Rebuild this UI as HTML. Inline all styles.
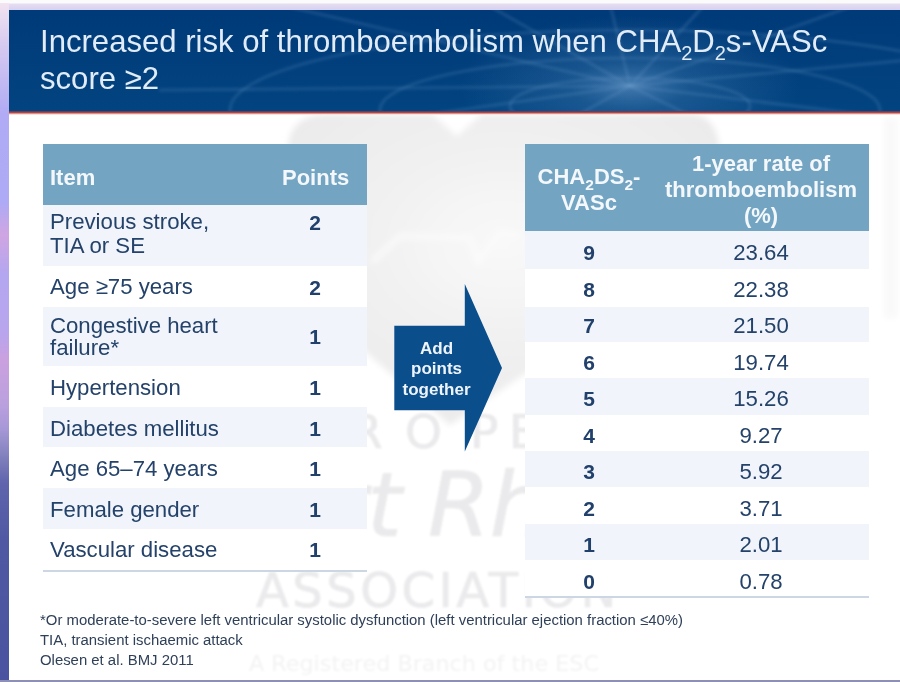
<!DOCTYPE html>
<html lang="en">
<head>
<meta charset="utf-8">
<title>Increased risk of thromboembolism when CHA2DS2-VASc score ≥2</title>
<style>
*{box-sizing:border-box;margin:0;padding:0}
html,body{width:900px;height:682px;overflow:hidden;background:#fff}
body{position:relative;font-family:"Liberation Sans",Arial,sans-serif;color:#1d3557}
.abs{position:absolute}
#wrap{position:absolute;left:-10px;top:-10px;width:920px;height:702px;padding:0;filter:blur(0.7px);background:#fff}
#wrap>*{transform:translate(10px,10px)}
#topstrip{left:-10px;top:0;width:920px;height:10px;background:linear-gradient(to bottom,#fbfbfb 0,#fbfbfb 3px,#e6ddf0 4px,#d9d3f1 9px)}
#leftstrip{left:-10px;top:3px;width:19px;height:690px;background:linear-gradient(to bottom,#f2e4f0 0,#d8cbf0 40px,#b0abf4 110px,#aeaaf5 200px,#d0a5e2 232px,#b4a6f0 270px,#b8a5ee 330px,#cba0df 357px,#bba0de 400px,#a898d8 425px,#8684c0 450px,#5f64ac 480px,#4f59a3 540px,#4a539f 679px,#4a539f 690px)}
#botstrip{left:-10px;top:680px;width:920px;height:12px;background:#8e8fb4}
#header{left:9px;top:10px;width:901px;height:101px;background:linear-gradient(to bottom,#003a78 0,#013f7c 50%,#024480 100%);overflow:hidden}
#redline{left:9px;top:111px;width:901px;height:4px;background:linear-gradient(to bottom,#4a3a66 0,#a8403f 35%,#d98f88 62%,#f6dcd8 85%,#fff 100%)}
#title{left:40px;top:23.2px;font-size:31.1px;line-height:37px;color:#e1ecf8;white-space:nowrap;letter-spacing:0}
#title sub{font-size:20px;vertical-align:baseline;position:relative;top:8px;line-height:0}
.wm{filter:blur(6px)}
.thead{background:#73a5c3;color:#f4f8fc;font-weight:bold;font-size:22px}
.row{left:43px;width:324px}
.rrow{left:525px;width:344px}
.lt{background:#f1f5fb}
.item{left:50px;font-size:22.2px;line-height:24.5px;white-space:nowrap;color:#24426a}
.pt{left:285px;width:60px;text-align:center;font-size:21px;font-weight:bold;color:#21406b;line-height:24px}
.sc{left:559px;width:60px;text-align:center;font-size:21px;font-weight:bold;color:#21406b;line-height:24px}
.rt{left:711px;width:100px;text-align:center;font-size:22.2px;color:#24426a;line-height:24px}
.hl{height:2px;background:#cdd6e3}
.fn{left:40px;font-size:14.9px;line-height:20px;color:#2f4059;white-space:nowrap}
</style>
</head>
<body>
<div id="wrap">
<!-- watermark (faint) -->
<svg class="abs" style="left:0;top:0" width="900" height="682" viewBox="0 0 900 682">
  <defs>
    <radialGradient id="wmg" cx="0.5" cy="0.42" r="0.6">
      <stop offset="0" stop-color="#f9f9f9"/>
      <stop offset="0.5" stop-color="#f1f1f2"/>
      <stop offset="1" stop-color="#ebebec"/>
    </radialGradient>
    <filter id="b3"><feGaussianBlur stdDeviation="3"/></filter>
    <filter id="b1"><feGaussianBlur stdDeviation="1.2"/></filter>
  </defs>
  <g filter="url(#b3)">
    <path d="M288 150 Q288 114 330 114 L432 114 L457 136 L482 114 L690 114 Q720 114 720 160 L720 240 L450 425 L288 285 Z" fill="url(#wmg)"/>
    <path d="M372 262 L400 236 L470 238 L478 262 L500 232 L520 236" stroke="#fbfbfb" stroke-width="5" fill="none"/>
    <rect x="884" y="118" width="14" height="200" fill="#f9f9f9"/>
  </g>
  <g filter="url(#b1)" fill="#eaeaec" stroke="#eaeaec" stroke-width="0.7" font-family="DejaVu Sans, Liberation Sans, sans-serif">
    <text x="250 300 350 405 470 509 548 590" y="448" font-size="47">EUROPEAN</text>
    <text x="402" y="536" font-size="89" font-style="italic" text-anchor="end">Heart</text>
    <text x="428" y="536" font-size="89" font-style="italic">Rhythm</text>
    <text x="256" y="607" font-size="48" letter-spacing="3.5">ASSOCIATION</text>
    <text x="249" y="671" font-size="20.5" fill="#f3f3f4" stroke="none" textLength="350" lengthAdjust="spacingAndGlyphs">A Registered Branch of the ESC</text>
  </g>
</svg>

<div id="topstrip" class="abs"></div>
<div id="leftstrip" class="abs"></div>
<div id="botstrip" class="abs"></div>

<div id="header" class="abs">
<svg width="891" height="101" viewBox="0 0 891 101" style="position:absolute;left:0;top:0">
  <defs>
    <radialGradient id="glow" cx="0.5" cy="0.5" r="0.5">
      <stop offset="0" stop-color="#6f9fce" stop-opacity="0.6"/>
      <stop offset="0.35" stop-color="#4f85ba" stop-opacity="0.3"/>
      <stop offset="1" stop-color="#4f85ba" stop-opacity="0"/>
    </radialGradient>
    <filter id="hb"><feGaussianBlur stdDeviation="1.4"/></filter>
  </defs>
  <ellipse cx="621" cy="76" rx="170" ry="70" fill="url(#glow)"/>
  <g stroke="#78a6d2" stroke-opacity="0.22" stroke-width="2.6" fill="none" filter="url(#hb)">
    <line x1="621" y1="76" x2="250" y2="-10"/>
    <line x1="621" y1="76" x2="470" y2="-10"/>
    <line x1="621" y1="76" x2="600" y2="-10"/>
    <line x1="621" y1="76" x2="700" y2="-10"/>
    <line x1="621" y1="76" x2="860" y2="-10"/>
    <line x1="621" y1="76" x2="900" y2="50"/>
    <line x1="621" y1="76" x2="900" y2="110"/>
    <line x1="621" y1="76" x2="690" y2="110"/>
    <line x1="621" y1="76" x2="560" y2="110"/>
    <line x1="621" y1="76" x2="380" y2="110"/>
    <line x1="621" y1="76" x2="150" y2="80"/>
    <ellipse cx="621" cy="100" rx="400" ry="80"/>
    <ellipse cx="621" cy="100" rx="250" ry="52"/>
    <ellipse cx="621" cy="96" rx="120" ry="28"/>
  </g>
</svg>
</div>
<div id="redline" class="abs"></div>
<div id="title" class="abs">Increased risk of thromboembolism when CHA<sub>2</sub>D<sub>2</sub>s-VASc<br>score ≥2</div>

<!-- LEFT TABLE -->
<div class="abs row" style="top:144px;height:426px;background:#fff"></div>
<div class="abs row thead" style="top:144px;height:61px"></div>
<div class="abs thead" style="left:50px;top:166px;line-height:24px;background:none">Item</div>
<div class="abs thead" style="left:282px;top:166px;line-height:24px;background:none">Points</div>

<div class="abs row lt" style="top:205px;height:61px"></div>
<div class="abs row lt" style="top:307px;height:59px"></div>
<div class="abs row lt" style="top:406.5px;height:40px"></div>
<div class="abs row lt" style="top:488px;height:40.5px"></div>
<div class="abs row hl" style="top:569.5px"></div>

<div class="abs item" style="top:210.4px;line-height:24px">Previous stroke,<br>TIA or SE</div>
<div class="abs pt" style="top:211.2px">2</div>
<div class="abs item" style="top:275px">Age ≥75 years</div>
<div class="abs pt" style="top:275.6px">2</div>
<div class="abs item" style="top:315.3px;line-height:21.5px">Congestive heart<br>failure*</div>
<div class="abs pt" style="top:325px">1</div>
<div class="abs item" style="top:376px">Hypertension</div>
<div class="abs pt" style="top:376px">1</div>
<div class="abs item" style="top:417px">Diabetes mellitus</div>
<div class="abs pt" style="top:417px">1</div>
<div class="abs item" style="top:457px">Age 65–74 years</div>
<div class="abs pt" style="top:457px">1</div>
<div class="abs item" style="top:497.6px">Female gender</div>
<div class="abs pt" style="top:498px">1</div>
<div class="abs item" style="top:538.3px">Vascular disease</div>
<div class="abs pt" style="top:538px">1</div>

<!-- ARROW -->
<svg class="abs" style="left:390px;top:280px" width="120" height="180" viewBox="390 280 120 180">
  <polygon points="394.3,325.7 464.8,325.7 464.8,284 502,368 464.8,451.6 464.8,410.2 394.3,410.2" fill="#0a4e8c"/>
  <g font-family="Liberation Sans, Arial, sans-serif" font-weight="bold" font-size="17" fill="#eef4fb" text-anchor="middle">
    <text x="436.5" y="353.7">Add</text>
    <text x="436.5" y="374">points</text>
    <text x="436.5" y="394.8">together</text>
  </g>
</svg>

<!-- RIGHT TABLE -->
<div class="abs rrow" style="top:144px;height:454px;background:#fff"></div>
<div class="abs rrow thead" style="top:144px;height:87px"></div>
<div class="abs thead" style="left:529px;top:163.8px;width:120px;text-align:center;line-height:26px;background:none">CHA<sub style="font-size:15.5px;vertical-align:baseline;position:relative;top:6px;line-height:0">2</sub>DS<sub style="font-size:15.5px;vertical-align:baseline;position:relative;top:6px;line-height:0">2</sub>-<br>VASc</div>
<div class="abs thead" style="left:651px;top:151px;width:220px;text-align:center;line-height:26px;background:none">1-year rate of<br>thromboembolism<br>(%)</div>

<div class="abs rrow lt" style="top:231px;height:38px"></div>
<div class="abs rrow lt" style="top:306.5px;height:35.5px"></div>
<div class="abs rrow lt" style="top:378px;height:37px"></div>
<div class="abs rrow lt" style="top:451px;height:36px"></div>
<div class="abs rrow lt" style="top:523.5px;height:36.5px"></div>
<div class="abs rrow hl" style="top:596px"></div>

<div class="abs sc" style="top:240.5px">9</div><div class="abs rt" style="top:241px">23.64</div>
<div class="abs sc" style="top:277.5px">8</div><div class="abs rt" style="top:278px">22.38</div>
<div class="abs sc" style="top:313.5px">7</div><div class="abs rt" style="top:314px">21.50</div>
<div class="abs sc" style="top:350.5px">6</div><div class="abs rt" style="top:351px">19.74</div>
<div class="abs sc" style="top:386.5px">5</div><div class="abs rt" style="top:387px">15.26</div>
<div class="abs sc" style="top:423.5px">4</div><div class="abs rt" style="top:424px">9.27</div>
<div class="abs sc" style="top:459.5px">3</div><div class="abs rt" style="top:460px">5.92</div>
<div class="abs sc" style="top:496.5px">2</div><div class="abs rt" style="top:497px">3.71</div>
<div class="abs sc" style="top:532.5px">1</div><div class="abs rt" style="top:533px">2.01</div>
<div class="abs sc" style="top:569.5px">0</div><div class="abs rt" style="top:570px">0.78</div>

<!-- FOOTNOTES -->
<div class="abs fn" style="top:610px">*Or moderate-to-severe left ventricular systolic dysfunction (left ventricular ejection fraction ≤40%)</div>
<div class="abs fn" style="top:630px">TIA, transient ischaemic attack</div>
<div class="abs fn" style="top:650px">Olesen et al. BMJ 2011</div>
</div>
</body>
</html>
